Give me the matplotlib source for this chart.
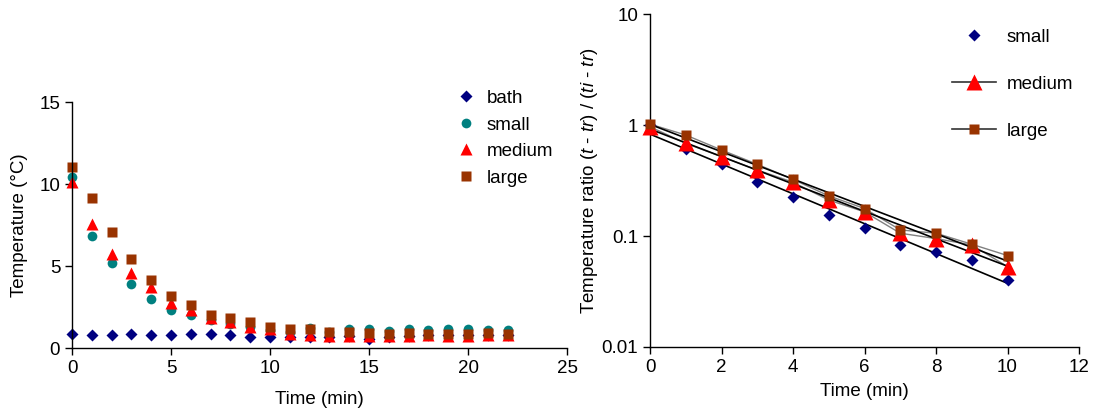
import numpy as np
import matplotlib
matplotlib.use('Agg')
import matplotlib.pyplot as plt
from matplotlib.lines import Line2D

plt.rcParams['font.family'] = ['Liberation Sans', 'DejaVu Sans']
plt.rcParams['mathtext.fontset'] = 'custom'
plt.rcParams['mathtext.rm'] = 'Liberation Sans'
plt.rcParams['mathtext.it'] = 'Liberation Sans:italic'

FS = 13.5

# left panel: cooling curves (degrees C), one reading per minute
minutes = list(range(23))
bath = [0.87, 0.79, 0.80, 0.87, 0.79, 0.77, 0.83, 0.87, 0.77, 0.67, 0.65, 0.65,
        0.67, 0.70, 0.75, 0.57, 0.70, 0.75, 0.79, 0.79, 0.77, 0.80, 0.80]
small = [10.44, 6.83, 5.17, 3.88, 2.99, 2.32, 2.00, 1.68, 1.47, 1.27, 1.10, 0.97,
         1.25, 1.00, 1.15, 1.17, 1.05, 1.19, 1.07, 1.19, 1.17, 1.07, 1.07]
medium = [10.10, 7.58, 5.76, 4.59, 3.70, 2.77, 2.32, 1.84, 1.58, 1.31, 1.17, 0.87,
          0.80, 0.75, 0.75, 0.71, 0.71, 0.71, 0.79, 0.75, 0.75, 0.79, 0.79]
large = [11.05, 9.17, 7.05, 5.41, 4.14, 3.17, 2.65, 2.04, 1.86, 1.60, 1.31, 1.15,
         1.15, 0.99, 1.00, 0.91, 0.85, 0.89, 0.87, 0.87, 0.85, 0.91, 0.87]

# right panel: temperature ratio over the first ten minutes
ratio_minutes = list(range(11))
ratio_small = [1.00, 0.608, 0.449, 0.309, 0.225, 0.155, 0.119, 0.0826, 0.0714,
               0.0614, 0.040]
ratio_medium = [0.966, 0.684, 0.519, 0.394, 0.305, 0.211, 0.165, 0.106, 0.0948,
                0.083, 0.053]
ratio_large = [1.02, 0.813, 0.596, 0.443, 0.324, 0.230, 0.177, 0.1135, 0.106,
               0.0843, 0.0667]

NAVY = '#000080'
TEAL = '#008080'
RED = '#ff0000'
BROWN = '#993300'

fig = plt.figure(figsize=(10.93, 4.12), dpi=100)


def style_axes(ax):
    for side in ('top', 'right'):
        ax.spines[side].set_visible(False)
    for side in ('left', 'bottom'):
        ax.spines[side].set_linewidth(1.0)
    ax.tick_params(direction='out', length=5, width=1, labelsize=FS,
                   colors='black')
    ax.tick_params(which='minor', length=0)


# left
ax1 = fig.add_axes([0.0659, 0.1553, 0.4529, 0.597])
style_axes(ax1)
ax1.plot(minutes, bath, 'D', color=NAVY, ms=6.5, mec='none', clip_on=False, label='bath')
ax1.plot(minutes, small, 'o', color=TEAL, ms=7, mec='none', clip_on=False, label='small')
ax1.plot(minutes, medium, '^', color=RED, ms=8, mec='none', clip_on=False, label='medium')
ax1.plot(minutes, large, 's', color=BROWN, ms=7, mec='none', clip_on=False, label='large')
ax1.set_xlim(0, 25)
ax1.set_ylim(0, 15)
ax1.set_xticks(range(0, 26, 5))
ax1.set_yticks([0, 5, 10, 15])
ax1.set_xlabel('Time (min)', fontsize=FS, labelpad=10)
ax1.set_ylabel('Temperature (°C)', fontsize=FS, labelpad=8)
ax1.legend(loc='upper left', bbox_to_anchor=(0.743, 1.118), frameon=False,
           fontsize=FS, handlelength=1.0, handletextpad=0.6, labelspacing=0.5)

# right
ax2 = fig.add_axes([0.5947, 0.1578, 0.3925, 0.808])
style_axes(ax2)
ax2.set_yscale('log')
for ys in (ratio_medium, ratio_large):
    ax2.plot(ratio_minutes, ys, '-', color='#808080', lw=1.0, zorder=2)
series = [(ratio_small, 'D', NAVY, 6.5), (ratio_medium, '^', RED, 11),
          (ratio_large, 's', BROWN, 7.5)]
for ys, mk, col, ms in series:
    ax2.plot(ratio_minutes, ys, mk, color=col, ms=ms, mec='none', clip_on=False,
             zorder=4)
    # exponential trendline
    k, b = np.polyfit(ratio_minutes, np.log10(ys), 1)
    xf = np.array([ratio_minutes[0], ratio_minutes[-1]])
    ax2.plot(xf, 10 ** (b + k * xf), '-', color='black', lw=1.2, zorder=3)
ax2.set_xlim(0, 12)
ax2.set_ylim(0.01, 10)
ax2.set_xticks(range(0, 13, 2))
ax2.set_yticks([0.01, 0.1, 1, 10])
ax2.set_yticklabels(['0.01', '0.1', '1', '10'])
ax2.set_xlabel('Time (min)', fontsize=FS, labelpad=5)
ax2.set_ylabel(r'Temperature ratio ($\mathit{t}$ - $\mathit{tr}$) / ($\mathit{ti}$ - $\mathit{tr}$)',
               fontsize=FS, labelpad=1)
handles = [
    Line2D([], [], ls='none', marker='D', color=NAVY, ms=6.5, mec='none'),
    Line2D([], [], ls='-', color='#333333', lw=1.2, marker='^', mfc=RED, ms=11, mec='none'),
    Line2D([], [], ls='-', color='#333333', lw=1.2, marker='s', mfc=BROWN, ms=7.5, mec='none'),
]
ax2.legend(handles, ['small', 'medium', 'large'], loc='upper left',
           bbox_to_anchor=(0.664, 1.007), frameon=False, fontsize=FS,
           handlelength=2.35, handletextpad=0.59, labelspacing=1.6)

fig.savefig('out.png', dpi=100)
